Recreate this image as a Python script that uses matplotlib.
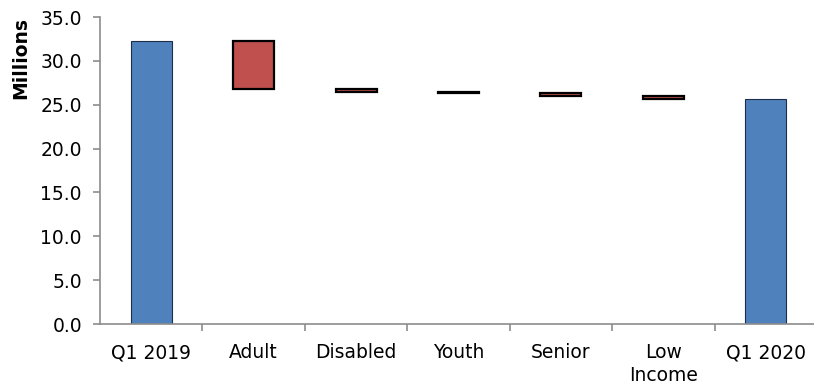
import matplotlib.pyplot as plt
import numpy as np
from matplotlib.ticker import FixedLocator

plt.rcParams["font.family"] = ["DejaVu Sans"]

categories = ["Q1 2019", "Adult", "Disabled", "Youth", "Senior", "Low\nIncome", "Q1 2020"]
start_total = 32.3
changes = [-5.5, -0.3, -0.2, -0.35, -0.35]
end_total = 25.6

BLUE = "#4F81BD"
RED = "#C0504D"
GRAY = "#8C8C8C"

fig = plt.figure(figsize=(8.14, 3.86), dpi=100)
ax = fig.add_axes([100 / 814, 1 - 324 / 386, 717 / 814, 307 / 386])

x = np.arange(len(categories))
width = 0.4

# totals at either end
ax.bar(x[0], start_total, width, color=BLUE, edgecolor="#1F2F4A", linewidth=0.8)
ax.bar(x[-1], end_total, width, color=BLUE, edgecolor="#1F2F4A", linewidth=0.8)

# floating steps in between
level = start_total
for i, d in enumerate(changes, start=1):
    bottom = level + d if d < 0 else level
    ax.bar(x[i], abs(d), width, bottom=bottom, color=RED,
           edgecolor="black", linewidth=1.6)
    level += d

ax.set_xlim(-0.5, len(categories) - 0.5)
ax.set_ylim(0, 35)
ax.set_yticks(np.arange(0, 35.1, 5))
ax.set_yticklabels([f"{v:.1f}" for v in np.arange(0, 35.1, 5)])
ax.set_xticks(x)
ax.set_xticklabels(categories, linespacing=1.25)
ax.xaxis.set_minor_locator(FixedLocator(np.arange(0.5, len(categories) - 0.5, 1)))

ax.tick_params(axis="x", which="major", length=0, pad=14, labelsize=13.5)
ax.tick_params(axis="x", which="minor", length=5, width=1.2, color=GRAY, direction="out")
ax.tick_params(axis="y", length=5, width=1.2, color=GRAY, pad=8, labelsize=13.5)

for side in ("top", "right"):
    ax.spines[side].set_visible(False)
for side in ("left", "bottom"):
    ax.spines[side].set_color(GRAY)
    ax.spines[side].set_linewidth(1.2)

ax.set_ylabel("Millions", loc="top", fontweight="bold", fontsize=13.5, labelpad=7)

fig.savefig("out.png", dpi=100)
